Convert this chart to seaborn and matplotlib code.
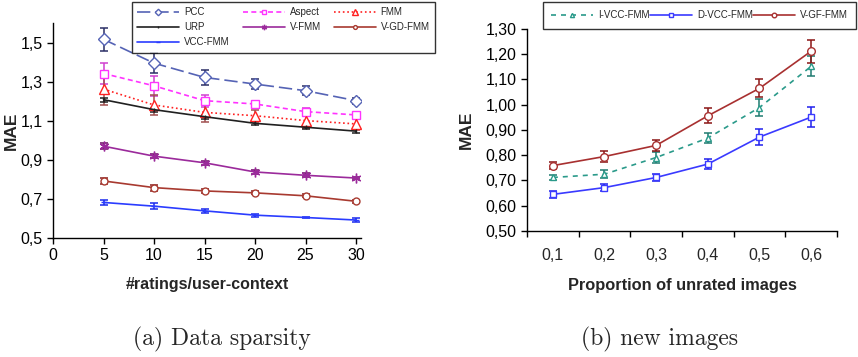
import numpy as np
import matplotlib
matplotlib.use('Agg')
import matplotlib.pyplot as plt
import seaborn as sns

# left panel: data sparsity
ratings = [5, 10, 15, 20, 25, 30]
pcc = [1.517, 1.395, 1.322, 1.288, 1.254, 1.203]
pcc_err = [0.06, 0.05, 0.04, 0.025, 0.023, 0.015]
aspect = [1.342, 1.279, 1.203, 1.186, 1.147, 1.130]
aspect_err = [0.055, 0.05, 0.03, 0.017, 0.02, 0.01]
fmm = [1.262, 1.181, 1.143, 1.126, 1.101, 1.084]
fmm_err = [0.08, 0.05, 0.05, 0.03, 0.04, 0.03]
urp = [1.208, 1.157, 1.121, 1.087, 1.067, 1.047]
urp_err = [0.01, 0.01, 0.01, 0.01, 0.01, 0.01]
vfmm = [0.970, 0.919, 0.885, 0.838, 0.821, 0.807]
vfmm_err = [0.015, 0.012, 0.01, 0.01, 0.01, 0.005]
vgdfmm = [0.792, 0.758, 0.741, 0.731, 0.716, 0.688]
vgdfmm_err = [0.015, 0.015, 0.01, 0.008, 0.008, 0.008]
vccfmm = [0.682, 0.663, 0.639, 0.617, 0.605, 0.592]
vccfmm_err = [0.012, 0.015, 0.01, 0.008, 0.005, 0.008]

# right panel: new images
proportions = ['0,1', '0,2', '0,3', '0,4', '0,5', '0,6']
ivcc = [0.712, 0.725, 0.791, 0.868, 0.989, 1.152]
ivcc_err = [0.01, 0.015, 0.02, 0.02, 0.035, 0.04]
dvcc = [0.645, 0.672, 0.712, 0.765, 0.872, 0.951]
dvcc_err = [0.015, 0.015, 0.015, 0.02, 0.03, 0.04]
vgf = [0.759, 0.795, 0.839, 0.956, 1.065, 1.212]
vgf_err = [0.015, 0.023, 0.023, 0.03, 0.035, 0.045]

sns.set_style('ticks')
plt.rcParams['font.family'] = ['Liberation Sans', 'DejaVu Sans']

fig = plt.figure(figsize=(8.58, 3.57), dpi=100)
ax1 = fig.add_axes([0.0618, 0.3333, 0.359, 0.602])
ax2 = fig.add_axes([0.6142, 0.3529, 0.3613, 0.566])


def draw(ax, x, y, err, label, color, ecolor, marker, ms, ls, mfc='white', lw=1.2):
    ax.errorbar(x, y, yerr=err, fmt='none', ecolor=ecolor, elinewidth=1.1,
                capsize=3, capthick=1.1, zorder=2)
    sns.lineplot(x=x, y=y, ax=ax, color=color, marker=marker, markersize=ms,
                 markerfacecolor=mfc, markeredgecolor=color, markeredgewidth=1.0,
                 linestyle=ls, linewidth=lw, label=label, zorder=3)


draw(ax1, ratings, pcc, pcc_err, 'PCC', '#5563b5', '#2b2f66', 'D', 6, (0, (8, 3)))
draw(ax1, ratings, aspect, aspect_err, 'Aspect', '#ff33ff', '#d040d0', 's', 6, (0, (3, 2)))
draw(ax1, ratings, fmm, fmm_err, 'FMM', '#ff2020', '#a05050', '^', 7, ':')
draw(ax1, ratings, urp, urp_err, 'URP', '#202020', '#202020', '|', 3, '-', mfc='#202020')
draw(ax1, ratings, vfmm, vfmm_err, 'V-FMM', '#9b2a9b', '#6a1060', (6, 2, 0), 7, '-', mfc='#6a1060')
draw(ax1, ratings, vgdfmm, vgdfmm_err, 'V-GD-FMM', '#a83a30', '#8a2020', 'o', 5, '-')
draw(ax1, ratings, vccfmm, vccfmm_err, 'VCC-FMM', '#2a3cff', '#1a2aee', '_', 5, '-', mfc='#2a3cff')

xc = np.arange(len(proportions))
draw(ax2, xc, ivcc, ivcc_err, 'I-VCC-FMM', '#2a9a8a', '#1f7a70', '^', 5, (0, (3, 3)))
draw(ax2, xc, dvcc, dvcc_err, 'D-VCC-FMM', '#3a3aff', '#2020ee', 's', 4.5, '-')
draw(ax2, xc, vgf, vgf_err, 'V-GF-FMM', '#a83030', '#8a1515', 'o', 5.5, '-')

for ax in (ax1, ax2):
    ax.get_legend().remove()
    sns.despine(ax=ax)
    for s in ('left', 'bottom'):
        ax.spines[s].set_color('black')
        ax.spines[s].set_linewidth(1.0)
    ax.tick_params(direction='out', length=4, width=1, colors='black',
                   labelsize=11.5)
    ax.set_ylabel('MAE', fontsize=12.5, fontweight='bold')

ax1.yaxis.set_label_coords(-0.112, 0.5)
ax2.yaxis.set_label_coords(-0.17, 0.5)

ax1.set_xlim(0, 30.5)
ax1.set_ylim(0.5, 1.6)
ax1.set_xticks([0, 5, 10, 15, 20, 25, 30])
yt1 = [0.5, 0.7, 0.9, 1.1, 1.3, 1.5]
ax1.set_yticks(yt1)
ax1.set_yticklabels([f'{v:.1f}'.replace('.', ',') for v in yt1])
ax1.set_xlabel('#ratings/user-context', fontsize=11.5, fontweight='bold', labelpad=10)

ax2.set_xlim(-0.5, 5.5)
ax2.set_ylim(0.5, 1.3)
ax2.set_xticks(np.arange(-0.5, 6, 1))
ax2.set_xticklabels([])
ax2.set_xticks(xc, minor=True)
ax2.set_xticklabels(proportions, minor=True)
ax2.tick_params(axis='x', which='minor', length=0, pad=12, labelsize=11.5)
yt2 = np.round(np.arange(0.5, 1.31, 0.1), 2)
ax2.set_yticks(yt2)
ax2.set_yticklabels([f'{v:.2f}'.replace('.', ',') for v in yt2])
ax2.set_xlabel('Proportion of unrated images', fontsize=11.8, fontweight='bold', labelpad=11)

# legends
h, l = ax1.get_legend_handles_labels()
order = ['PCC', 'URP', 'VCC-FMM', 'Aspect', 'V-FMM', 'FMM', 'V-GD-FMM']
hh = [h[l.index(k)] for k in order]
leg1 = fig.legend(hh, order, loc='upper left', bbox_to_anchor=(0.154, 0.994, 0.353, 0.0),
                  mode='expand', ncol=3, fontsize=7, frameon=True, fancybox=False,
                  handlelength=4.3, borderpad=0.55, labelspacing=0.5, columnspacing=1.0,
                  handletextpad=0.5, borderaxespad=0, markerscale=0.55)
leg1.get_frame().set_edgecolor('black')
leg1.get_frame().set_linewidth(1.0)

h2, l2 = ax2.get_legend_handles_labels()
leg2 = fig.legend(h2, l2, loc='upper left', bbox_to_anchor=(0.633, 0.994, 0.365, 0.0),
                  mode='expand', ncol=3, fontsize=7, frameon=True, fancybox=False,
                  handlelength=4.3, borderpad=0.85, columnspacing=0.8,
                  handletextpad=0.5, borderaxespad=0, markerscale=0.6)
leg2.get_frame().set_edgecolor('black')
leg2.get_frame().set_linewidth(1.0)

fig.text(0.259, 0.048, '(a) Data sparsity', fontsize=17, family='cmr10', ha='center', va='center')
fig.text(0.769, 0.048, '(b) new images', fontsize=17, family='cmr10', ha='center', va='center')

fig.savefig('out.png', dpi=100)
